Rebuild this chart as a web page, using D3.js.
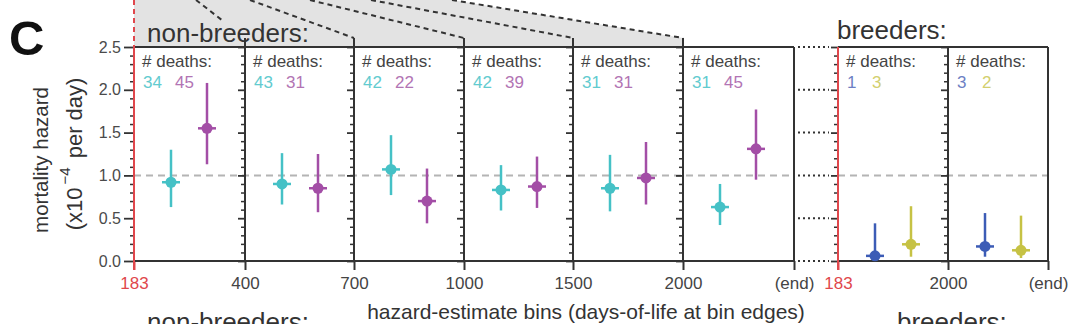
<!DOCTYPE html>
<html>
<head>
<meta charset="utf-8">
<script src="https://cdn.jsdelivr.net/npm/d3@7"></script>
<style>
  html, body { margin: 0; padding: 0; background: #fff; }
  svg { display: block; font-family: "Liberation Sans", Arial, sans-serif; }
</style>
</head>
<body>
<svg id="chart" width="1080" height="324"></svg>
<script>
// ---- data ----
// bin edges (days of life)
const nbEdges = ["183", "400", "700", "1000", "1500", "2000", "(end)"];
const brEdges = ["183", "2000", "(end)"];

// non-breeders: cyan series and purple series, per bin
const nbDeathsA = [34, 43, 42, 42, 31, 31];
const nbDeathsB = [45, 31, 22, 39, 31, 45];
const nbHazA = [0.92, 0.90, 1.07, 0.83, 0.85, 0.63];
const nbLoA  = [0.63, 0.66, 0.77, 0.59, 0.58, 0.42];
const nbHiA  = [1.30, 1.26, 1.47, 1.12, 1.24, 0.90];
const nbHazB = [1.55, 0.85, 0.70, 0.87, 0.97, 1.31];
const nbLoB  = [1.13, 0.57, 0.44, 0.62, 0.66, 0.95];
const nbHiB  = [2.08, 1.25, 1.08, 1.22, 1.39, 1.77];

// breeders: blue series and yellow series, per bin
const brDeathsA = [1, 3];
const brDeathsB = [3, 2];
const brHazA = [0.06, 0.17];
const brLoA  = [0.00, 0.05];
const brHiA  = [0.44, 0.56];
const brHazB = [0.195, 0.125];
const brLoB  = [0.05, 0.035];
const brHiB  = [0.64, 0.53];

const yMajor = [0, 0.5, 1.0, 1.5, 2.0, 2.5];

// ---- layout ----
const svg = d3.select("#chart");
const plotTop = 47, plotBottom = 261;
const y = d3.scaleLinear().domain([0, 2.5]).range([plotBottom, plotTop]);

const xNB = d3.scaleLinear().domain(d3.range(nbEdges.length))
  .range([134, 245, 354, 464, 573, 683, 794]);
const xBR = d3.scaleLinear().domain(d3.range(brEdges.length))
  .range([838, 948, 1048]);

const ink = "#333";
const red = "#e0474c";
const gray = "#e3e3e3";
const col = { cyan: "#45c1c6", purple: "#a34ea6", blue: "#3c5cb6", yellow: "#c6c244" };
const colText = { cyan: "#62cbcf", purple: "#b274b4", blue: "#6d7fc4", yellow: "#d2cf6e" };

// ---- zoom funnel from the panel above ----
const funnelTop = [134, 196, 250, 310, 371, 452];
svg.append("path")
  .attr("d", `M134,0 L452,0 L${xNB(5)},38 L${xNB(5)},${plotTop} L134,${plotTop} Z`)
  .attr("fill", gray);
funnelTop.slice(1).forEach((x0, i) => {
  svg.append("line")
    .attr("x1", x0).attr("y1", 0)
    .attr("x2", xNB(i + 1)).attr("y2", 38)
    .attr("stroke", ink).attr("stroke-width", 2)
    .attr("stroke-dasharray", "5,4");
});
// title box covering the funnel lines
svg.append("rect").attr("x", 142).attr("y", 21).attr("width", 166).attr("height", 25).attr("fill", gray);
svg.append("text").attr("x", 147).attr("y", 42)
  .attr("font-size", 26).attr("fill", ink).text("non-breeders:");
svg.append("text").attr("x", 837).attr("y", 39)
  .attr("font-size", 26).attr("fill", ink).text("breeders:");

// panel label
svg.append("text").attr("x", 9).attr("y", 55)
  .attr("font-size", 49).attr("font-weight", "bold").attr("fill", "#111").text("C");

// ---- reference line at hazard 1.0 ----
[[xNB(0), xNB(nbEdges.length - 1)], [xBR(0), xBR(brEdges.length - 1)]].forEach(([a, b]) => {
  svg.append("line")
    .attr("x1", a).attr("x2", b).attr("y1", y(1)).attr("y2", y(1))
    .attr("stroke", "#b4b4b4").attr("stroke-width", 2).attr("stroke-dasharray", "7,5");
});

// ---- y axes on every bin edge ----
function yAxisAt(x, major, labels) {
  const minor = d3.range(0, 2.501, 0.1).map(v => +v.toFixed(1)).filter(v => !yMajor.includes(v));
  svg.append("g").attr("transform", `translate(${x},0)`)
    .call(d3.axisLeft(y).tickValues(minor).tickSize(4).tickFormat(""))
    .call(g => g.select(".domain").remove())
    .call(g => g.selectAll("line").attr("stroke", ink).attr("stroke-width", 1.5));
  const g = svg.append("g").attr("transform", `translate(${x},0)`)
    .call(d3.axisLeft(y).tickValues(yMajor).tickSize(major).tickPadding(3)
      .tickFormat(labels ? d3.format(".1f") : ""))
    .call(g => g.select(".domain").remove())
    .call(g => g.selectAll("line").attr("stroke", ink).attr("stroke-width", 1.8));
  g.selectAll("text").attr("font-size", 16).attr("fill", "#4a4a4a")
    .attr("font-family", "Liberation Sans, Arial, sans-serif");
}
d3.range(nbEdges.length - 1).forEach(i => yAxisAt(xNB(i), i === 0 ? 10 : 7, i === 0));
d3.range(brEdges.length - 1).forEach(i => yAxisAt(xBR(i), 7, false));

// ---- x axes ----
function xAxis(scale, edges) {
  const g = svg.append("g").attr("transform", `translate(0,${plotBottom})`)
    .call(d3.axisBottom(scale).tickValues(d3.range(edges.length)).tickSize(9).tickPadding(7)
      .tickFormat(i => edges[i]))
    .call(g => g.select(".domain").remove());
  g.selectAll("line").attr("stroke", ink).attr("stroke-width", 2);
  g.selectAll("text").attr("font-size", 17)
    .attr("font-family", "Liberation Sans, Arial, sans-serif")
    .attr("fill", (d, i) => i === 0 ? red : "#444");
  g.selectAll("line").filter((d, i) => i === 0).attr("stroke", red);
}
xAxis(xNB, nbEdges);
xAxis(xBR, brEdges);

// ---- frames ----
function frame(scale, n, stubTop) {
  const x0 = scale(0), x1 = scale(n);
  svg.append("line").attr("x1", x0).attr("x2", x1).attr("y1", plotTop).attr("y2", plotTop)
    .attr("stroke", ink).attr("stroke-width", 2);
  svg.append("line").attr("x1", x0).attr("x2", x1).attr("y1", plotBottom).attr("y2", plotBottom)
    .attr("stroke", ink).attr("stroke-width", 2);
  d3.range(1, n + 1).forEach(i => {
    svg.append("line").attr("x1", scale(i)).attr("x2", scale(i))
      .attr("y1", stubTop && i < n ? 38 : plotTop).attr("y2", plotBottom)
      .attr("stroke", ink).attr("stroke-width", 2);
  });
  svg.append("line").attr("x1", x0).attr("x2", x0).attr("y1", plotTop).attr("y2", plotBottom + 9)
    .attr("stroke", red).attr("stroke-width", 2);
}
frame(xNB, nbEdges.length - 1, true);
frame(xBR, brEdges.length - 1, false);
svg.append("line").attr("x1", xNB(0)).attr("x2", xNB(0)).attr("y1", 0).attr("y2", plotTop)
  .attr("stroke", red).attr("stroke-width", 2).attr("stroke-dasharray", "5,4");

// dotted links between the two groups at the major ticks
yMajor.forEach(v => {
  svg.append("line").attr("x1", 798).attr("x2", 829).attr("y1", y(v)).attr("y2", y(v))
    .attr("stroke", ink).attr("stroke-width", 2).attr("stroke-dasharray", "2,3");
});

// ---- estimates with confidence intervals ----
const offA = 37, offB = 73;
function series(scale, haz, lo, hi, off, color) {
  const g = svg.append("g");
  haz.forEach((v, i) => {
    const cx = scale(i) + off;
    g.append("line").attr("x1", cx).attr("x2", cx).attr("y1", y(lo[i])).attr("y2", y(hi[i]))
      .attr("stroke", color).attr("stroke-width", 2.5);
    g.append("line").attr("x1", cx - 9).attr("x2", cx + 9).attr("y1", y(v)).attr("y2", y(v))
      .attr("stroke", color).attr("stroke-width", 2.5);
    g.append("circle").attr("cx", cx).attr("cy", y(v)).attr("r", 5.5).attr("fill", color);
  });
}
series(xNB, nbHazA, nbLoA, nbHiA, offA, col.cyan);
series(xNB, nbHazB, nbLoB, nbHiB, offB, col.purple);
series(xBR, brHazA, brLoA, brHiA, offA, col.blue);
series(xBR, brHazB, brLoB, brHiB, offB, col.yellow);

// ---- death counts ----
function counts(scale, a, b, ca, cb, gap) {
  a.forEach((n, i) => {
    const x0 = scale(i);
    svg.append("text").attr("x", x0 + 8).attr("y", 67).attr("font-size", 17)
      .attr("fill", "#444").text("# deaths:");
    svg.append("text").attr("x", x0 + 9).attr("y", 88).attr("font-size", 17)
      .attr("fill", ca).text(n);
    svg.append("text").attr("x", x0 + 9 + gap).attr("y", 88).attr("font-size", 17)
      .attr("fill", cb).text(b[i]);
  });
}
counts(xNB, nbDeathsA, nbDeathsB, colText.cyan, colText.purple, 32);
counts(xBR, brDeathsA, brDeathsB, colText.blue, colText.yellow, 25);

// ---- axis titles ----
svg.append("text").attr("transform", "translate(48,160) rotate(-90)")
  .attr("text-anchor", "middle").attr("font-size", 20.5).attr("fill", ink)
  .text("mortality hazard");
const t2 = svg.append("text").attr("transform", "translate(82,154) rotate(-90)")
  .attr("text-anchor", "middle").attr("font-size", 22).attr("fill", ink);
t2.append("tspan").text("(x10");
t2.append("tspan").attr("font-size", 15).attr("dx", 3).attr("dy", -12).text("\u22124");
t2.append("tspan").attr("dx", 3).attr("dy", 12).text(" per day)");

svg.append("text").attr("x", 586).attr("y", 319).attr("text-anchor", "middle")
  .attr("font-size", 21).attr("fill", ink)
  .text("hazard-estimate bins (days-of-life at bin edges)");

// group labels of the row below
svg.append("text").attr("x", 147).attr("y", 331).attr("font-size", 26).attr("fill", ink).text("non-breeders:");
svg.append("text").attr("x", 897).attr("y", 331).attr("font-size", 26).attr("fill", ink).text("breeders:");
</script>
</body>
</html>
